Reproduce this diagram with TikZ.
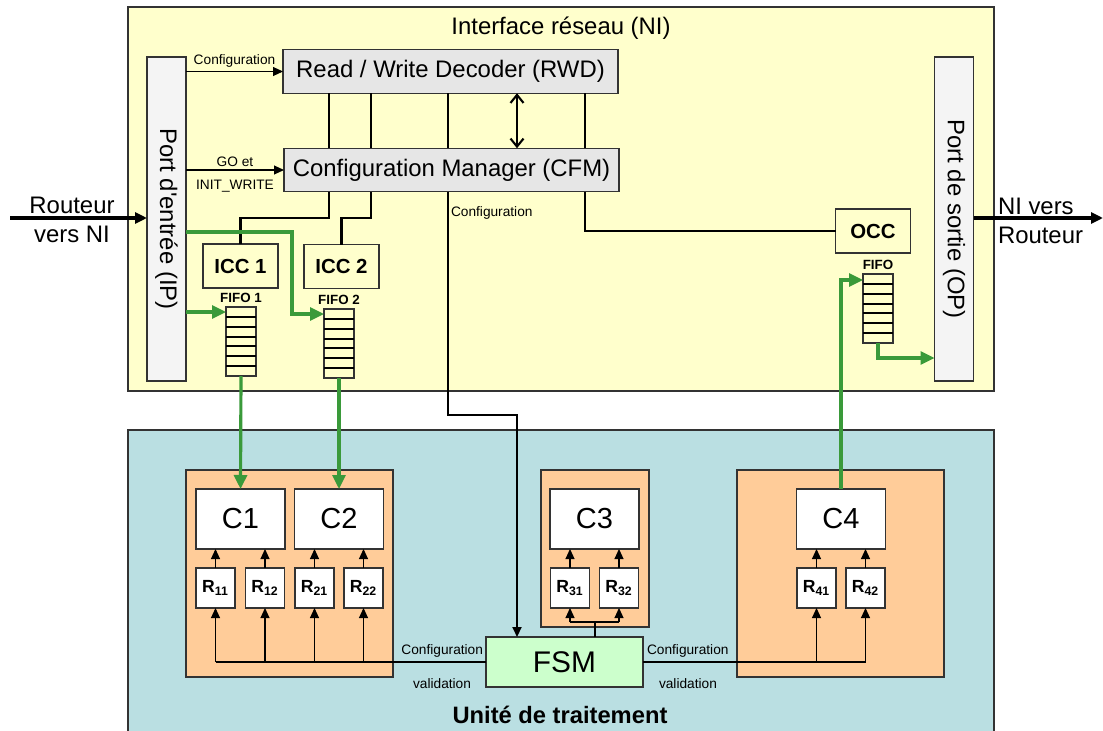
\documentclass[tikz,border=0pt]{standalone}
\usepackage{fontspec}
\setmainfont{Liberation Sans}
\usepackage{graphicx}
\usepackage{xcolor}
\usepackage{tikz}
\usetikzlibrary{positioning, arrows.meta, calc}

\definecolor{niyellow}{HTML}{FFFFCC}
\definecolor{utblue}{HTML}{BADFE2}
\definecolor{grporange}{HTML}{FFCC99}
\definecolor{portgray}{HTML}{F4F4F4}
\definecolor{blockgray}{HTML}{E6E6E6}
\definecolor{fsmgreen}{HTML}{CCFFCC}
\definecolor{datagreen}{HTML}{3A9A3A}
\definecolor{edgegray}{HTML}{333333}

\begin{document}
\begin{tikzpicture}[
    x=0.2mm, y=-0.2mm,
    every node/.style={inner sep=0pt, outer sep=0pt},
    frame/.style={rectangle, draw=edgegray, line width=0.7pt},
    block/.style={frame, fill=blockgray, minimum width=67mm, minimum height=8.7mm,
        font=\fontsize{13.6}{16}\selectfont},
    port/.style={frame, fill=portgray, minimum width=7.8mm, minimum height=64.8mm,
        font=\fontsize{13.6}{16}\selectfont},
    ctrl/.style={frame, minimum width=15mm, minimum height=8.8mm,
        font=\fontsize{11.6}{14}\selectfont\bfseries},
    fifo/.style={frame, minimum width=6mm, minimum height=13.8mm},
    group/.style={frame, fill=grporange},
    cbox/.style={frame, fill=white, minimum width=17.8mm, minimum height=12mm,
        font=\fontsize{16.5}{19}\selectfont},
    rbox/.style={frame, fill=white, minimum width=7.8mm, minimum height=8mm,
        font=\fontsize{10}{12}\selectfont\bfseries},
    lbl/.style={font=\fontsize{7.8}{9}\selectfont},
    fifolbl/.style={font=\fontsize{7.6}{9}\selectfont\bfseries},
    big/.style={font=\fontsize{13.6}{16}\selectfont},
    wire/.style={line width=1.2pt},
    thinwire/.style={line width=0.6pt},
    arrow/.style={thinwire, -{Triangle[length=2mm, width=1.8mm]}},
    bigarrow/.style={line width=1.8pt, -{Triangle[length=2.4mm, width=2.2mm]}},
    garrow/.style={line width=1.8pt, draw=datagreen, -{Triangle[length=2.8mm, width=2.6mm]}}
]
\clip (0,0) rectangle (1103,730);

% Interface reseau (NI)
\node[frame, fill=niyellow, minimum width=173.2mm, minimum height=76.8mm] (ni) at (561,199) {};
\node[big] (nititle) at (561,28) {Interface réseau (NI)};

\node[port] (ip) at (166.5,219) {\rotatebox{-90}{Port d\textquotesingle entrée (IP)}};
\node[port] (op) at (954,219) {\rotatebox{-90}{Port de sortie (OP)}};
\node[block] (rwd) at (450.5,71.5) {Read / Write Decoder (RWD)};
\node[block] (cfm) at (451.5,170) {Configuration Manager (CFM)};
\node[ctrl] (icc1) at (240.5,266) {ICC 1};
\node[ctrl] (icc2) at (341.5,266.5) {ICC 2};
\node[ctrl] (occ) at (873,231) {OCC};

\node[fifo] (fifo1) at (241,341.5) {};
\node[fifo] (fifo2) at (339,343.5) {};
\node[fifo] (fifo3) at (878,308.5) {};
\node[fifolbl, above=0.8mm of fifo1] (fifo1lbl) {FIFO 1};
\node[fifolbl, above=0.8mm of fifo2] (fifo2lbl) {FIFO 2};
\node[fifolbl, above=0.8mm of fifo3] (fifo3lbl) {FIFO};
\foreach \f in {fifo1, fifo2, fifo3}
  \foreach \i in {1,...,6}
    \draw[line width=1.1pt] ($(\f.north west)!\i/7!(\f.south west)$) -- ($(\f.north east)!\i/7!(\f.south east)$);

% Unite de traitement
\node[frame, fill=utblue, minimum width=173.2mm, minimum height=62mm] (ut) at (561,585) {};
\node[font=\fontsize{13.5}{16}\selectfont\bfseries] (uttitle) at (560,715) {Unité de traitement};

\node[group, minimum width=41.4mm, minimum height=41.4mm] (grp12) at (289.5,573.5) {};
\node[group, minimum width=21.6mm, minimum height=31.4mm] (grp3) at (595,548.5) {};
\node[group, minimum width=41.4mm, minimum height=41.4mm] (grp4) at (840.5,573.5) {};

\node[cbox] (c1) at (240.5,519) {C1};
\node[cbox] (c2) at (339,519) {C2};
\node[cbox] (c3) at (594.5,519) {C3};
\node[cbox] (c4) at (841,519) {C4};

\node[rbox] (r11) at (215.5,588) {R\textsubscript{11}};
\node[rbox] (r12) at (265,588) {R\textsubscript{12}};
\node[rbox] (r21) at (314.5,588) {R\textsubscript{21}};
\node[rbox] (r22) at (363.5,588) {R\textsubscript{22}};
\node[rbox] (r31) at (570,588) {R\textsubscript{31}};
\node[rbox] (r32) at (619,588) {R\textsubscript{32}};
\node[rbox] (r41) at (816.5,588) {R\textsubscript{41}};
\node[rbox] (r42) at (865.5,588) {R\textsubscript{42}};

\node[frame, fill=fsmgreen, minimum width=31.4mm, minimum height=10mm,
      font=\fontsize{17}{20}\selectfont] (fsm) at (564.5,662) {FSM};

% router links
\coordinate (rin) at (10,218);
\coordinate (rout) at (1103,218);
\draw[bigarrow] (rin) -- (rin -| ip.west);
\node[big] (rinA) at (72,205) {Routeur};
\node[big] (rinB) at (72,234) {vers NI};
\draw[bigarrow] (rout -| op.east) -- (rout);
\node[big, anchor=west] (routA) at (998,206) {NI vers};
\node[big, anchor=west] (routB) at (998,235) {Routeur};

% control signals
\draw[arrow] (ip.east |- rwd.west) -- node[lbl, above=0.8mm] (cfglbl) {Configuration} (rwd.west);
\draw[arrow] (ip.east |- cfm.west) -- node[lbl, above=0.6mm] (golbl) {GO et}
    node[lbl, below=2mm] (initlbl) {INIT\_WRITE} (cfm.west);

\coordinate (xa) at (329,0);
\coordinate (xb) at (371,0);
\coordinate (xc) at (448,0);
\coordinate (xd) at (517,0);
\coordinate (xe) at (585,0);
\foreach \c in {xa, xb, xc, xe}
  \draw[wire] (rwd.south -| \c) -- (cfm.north -| \c);
\draw[wire, {Straight Barb[length=1.6mm, width=2.6mm]}-{Straight Barb[length=1.6mm, width=2.6mm]}]
    (rwd.south -| xd) -- (cfm.north -| xd);
\draw[wire] (cfm.south -| xa) -- ++(0,26) -| (icc1.north);
\draw[wire] (cfm.south -| xb) -- ++(0,26) -| (icc2.north);
\draw[wire] (cfm.south -| xe) |- (occ.west);
\draw[wire, -{Triangle[length=2mm, width=1.8mm]}] (cfm.south -| xc)
    -- node[lbl, pos=0.094, right=0.6mm] (cfglbl2) {Configuration} ++(0,223) -| (fsm.north -| xd);

% data paths
\coordinate (ga) at (0,312);
\coordinate (gb) at (0,232);
\coordinate (gc) at (292,314);
\coordinate (gd) at (0,280);
\coordinate (ge) at (0,358);
\draw[garrow] (ip.east |- ga) -- (fifo1.west |- ga);
\draw[garrow] (ip.east |- gb) -| (gc) -- (fifo2.west |- gc);
\draw[garrow] (fifo1.south) -- (c1.north);
\draw[garrow] (fifo2.south) -- (c2.north);
\draw[garrow] (c4.north) |- (fifo3.west |- gd);
\draw[garrow] (fifo3.south) |- (op.west |- ge);

% registers
\foreach \r/\c in {r11/c1, r12/c1, r21/c2, r22/c2, r31/c3, r32/c3, r41/c4, r42/c4}
  \draw[arrow] (\r.north) -- (\r.north |- \c.south);

\draw[thinwire] (fsm.west) -- (r11.south |- fsm.west);
\foreach \r in {r11, r12, r21, r22}
  \draw[arrow] (\r.south |- fsm.west) -- (\r.south);
\draw[thinwire] (fsm.east) -- (r42.south |- fsm.east);
\foreach \r in {r41, r42}
  \draw[arrow] (\r.south |- fsm.east) -- (\r.south);
\coordinate (c3bus) at (595,622);
\draw[thinwire] (fsm.north -| c3bus) -- (c3bus);
\draw[thinwire] (r31.south |- c3bus) -- (r32.south |- c3bus);
\foreach \r in {r31, r32}
  \draw[arrow] (\r.south |- c3bus) -- (\r.south);

\node[lbl, above left=1mm and 0.6mm of fsm.west] (cfgL) {Configuration};
\node[lbl, below left=3.4mm and 3mm of fsm.west] (valL) {validation};
\node[lbl, above right=1mm and 0.8mm of fsm.east] (cfgR) {Configuration};
\node[lbl, below right=3.4mm and 3.2mm of fsm.east] (valR) {validation};

\end{tikzpicture}
\end{document}
